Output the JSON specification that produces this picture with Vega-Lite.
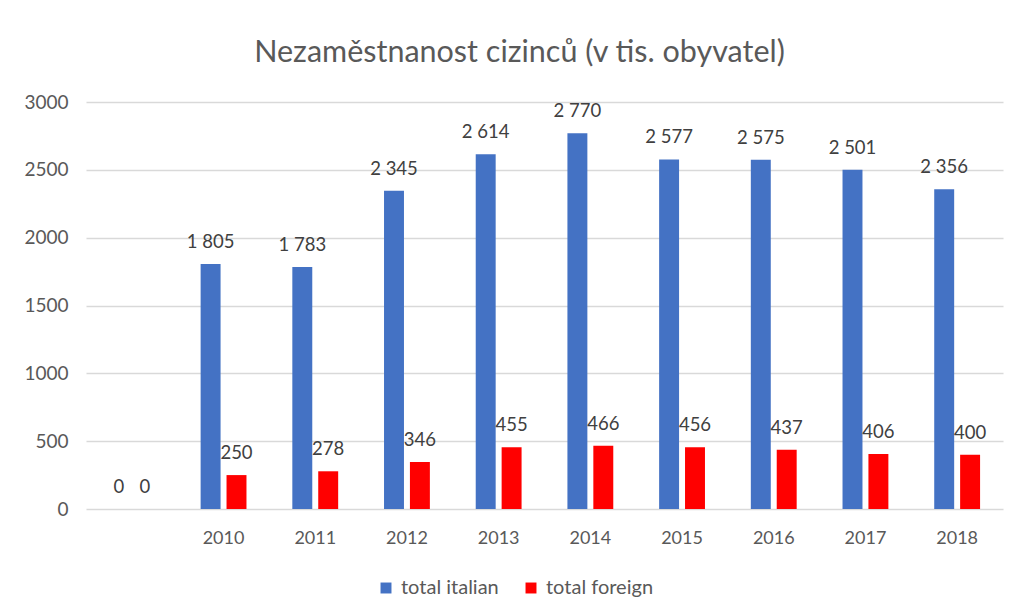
{
  "$schema": "https://vega.github.io/schema/vega-lite/v6.json",
  "width": 917,
  "height": 407,
  "autosize": "none",
  "padding": {"left": 86, "top": 102, "right": 16, "bottom": 107},
  "background": "white",
  "title": {"text": "Nezaměstnanost cizinců (v tis. obyvatel)", "font": "Lato", "fontSize": 30.5, "fontWeight": "normal", "color": "#595959", "offset": 25, "dx": -25},
  "data": {"values": [
    {"year": " ", "series": "total italian", "value": 0},
    {"year": " ", "series": "total foreign", "value": 0},
    {"year": "2010", "series": "total italian", "value": 1805},
    {"year": "2010", "series": "total foreign", "value": 250},
    {"year": "2011", "series": "total italian", "value": 1783},
    {"year": "2011", "series": "total foreign", "value": 278},
    {"year": "2012", "series": "total italian", "value": 2345},
    {"year": "2012", "series": "total foreign", "value": 346},
    {"year": "2013", "series": "total italian", "value": 2614},
    {"year": "2013", "series": "total foreign", "value": 455},
    {"year": "2014", "series": "total italian", "value": 2770},
    {"year": "2014", "series": "total foreign", "value": 466},
    {"year": "2015", "series": "total italian", "value": 2577},
    {"year": "2015", "series": "total foreign", "value": 456},
    {"year": "2016", "series": "total italian", "value": 2575},
    {"year": "2016", "series": "total foreign", "value": 437},
    {"year": "2017", "series": "total italian", "value": 2501},
    {"year": "2017", "series": "total foreign", "value": 406},
    {"year": "2018", "series": "total italian", "value": 2356},
    {"year": "2018", "series": "total foreign", "value": 400}
  ]},
  "encoding": {
    "x": {"field": "year", "type": "nominal", "sort": null, "title": null,
      "scale": {"paddingInner": 0.5, "paddingOuter": 0.25},
      "axis": {"labelAngle": 0, "domain": false, "ticks": false, "labelPadding": 20, "labelFont": "Lato", "labelFontSize": 18, "labelColor": "#595959"}},
    "xOffset": {"field": "series", "type": "nominal", "sort": ["total italian", "total foreign"], "scale": {"paddingInner": 0.23, "paddingOuter": 0}},
    "y": {"field": "value", "type": "quantitative", "title": null,
      "scale": {"domain": [0, 3000]},
      "axis": {"values": [0, 500, 1000, 1500, 2000, 2500, 3000], "format": "d", "domain": false, "ticks": false, "labelPadding": 18, "labelFont": "Lato", "labelFontSize": 19, "labelColor": "#595959", "gridColor": "#d9d9d9", "gridWidth": 1.3}}
  },
  "layer": [
    {"mark": {"type": "bar"},
      "encoding": {"color": {"field": "series", "type": "nominal", "sort": ["total italian", "total foreign"], "title": null,
        "scale": {"domain": ["total italian", "total foreign"], "range": ["#4472C4", "#FF0000"]},
        "legend": {"orient": "none", "legendX": 290, "legendY": 476, "direction": "horizontal", "symbolType": "square", "symbolSize": 120, "symbolStrokeWidth": 0, "labelFont": "Lato", "labelFontSize": 20, "labelColor": "#595959", "columnPadding": 22, "labelOffset": 5}}}},
    {"mark": {"type": "text", "baseline": "bottom", "dy": -12, "font": "Lato", "fontSize": 18.5, "color": "#404040"},
      "encoding": {"text": {"field": "value", "type": "quantitative", "format": ",d"}}}
  ],
  "config": {
    "view": {"stroke": null},
    "locale": {"number": {"decimal": ",", "thousands": " ", "grouping": [3], "currency": ["", " Kč"]}}
  }
}
